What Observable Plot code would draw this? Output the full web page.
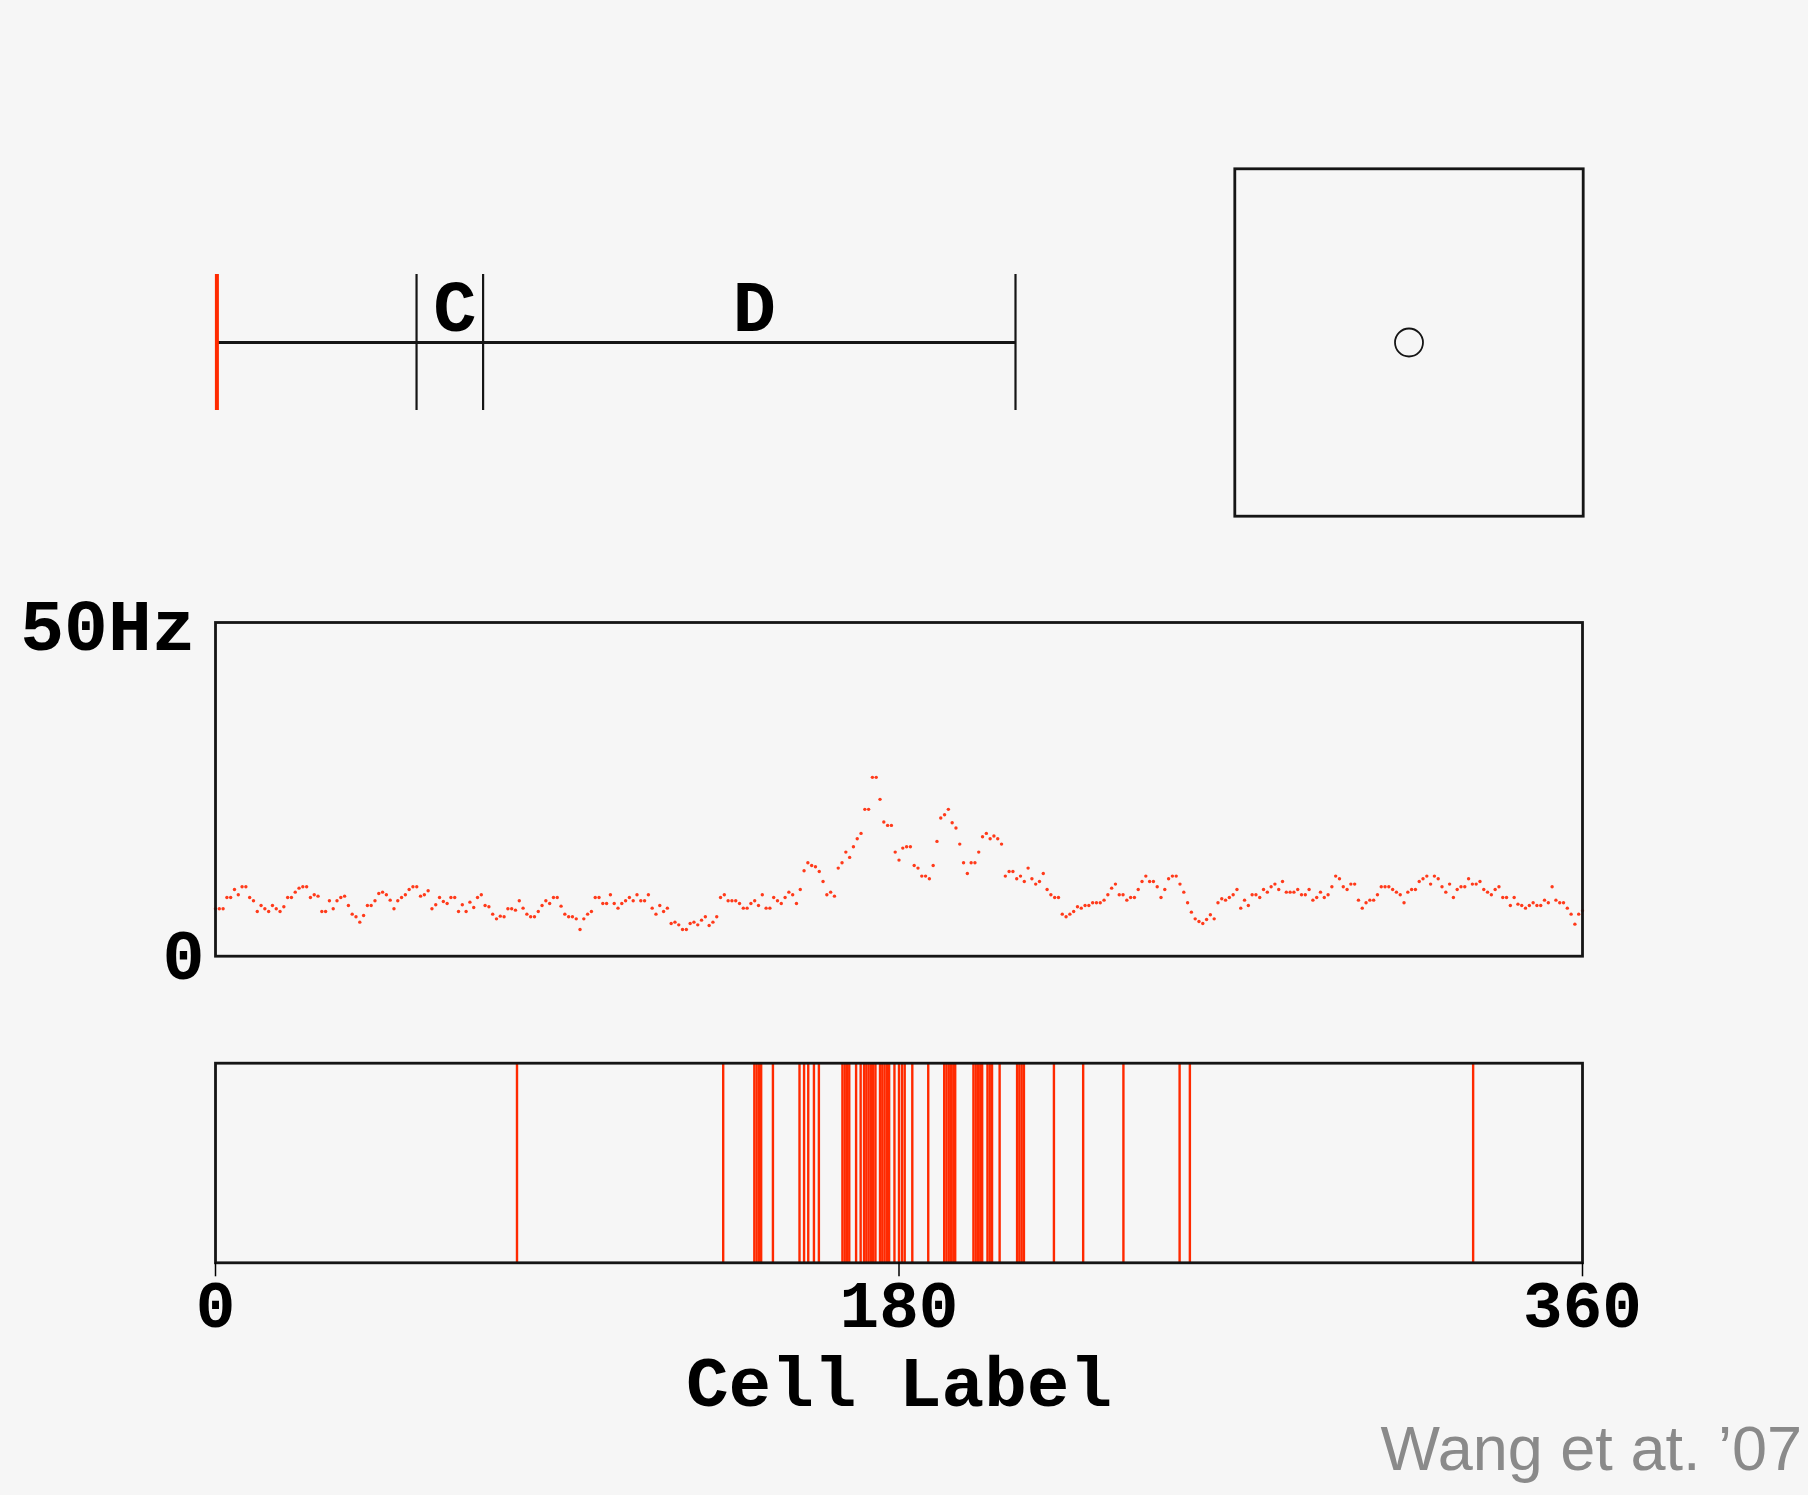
<!DOCTYPE html>
<html>
<head>
<meta charset="utf-8">
<script src="https://cdn.jsdelivr.net/npm/d3@7"></script>
<script src="https://cdn.jsdelivr.net/npm/@observablehq/plot@0.6"></script>
<style>
html, body { margin: 0; padding: 0; background: #f6f6f6; }
#root { position: relative; width: 1808px; height: 1495px; background: #f6f6f6; overflow: hidden; }
#root > svg, #root > figure { position: absolute; left: 0; margin: 0; }
#credit { position: absolute; right: 6px; top: 1417px; font-family: "Liberation Sans", Arial, sans-serif; font-size: 63px; line-height: 63px; color: #8a8a8a; white-space: nowrap; }
</style>
</head>
<body>
<div id="root"><div id="credit">Wang et at. ’07</div></div>
<script>
// ---------- data ----------
// trial phases (seconds): start (red), C starts, D starts, end
const phaseBounds = [0, 3, 4, 12];
const phaseLabels = [
  { name: "C", from: 3, to: 4 },
  { name: "D", from: 4, to: 12 }
];
// animal position in the arena (normalised)
const arenaPos = [{ x: 0.5, y: 0.5 }];
// population firing rate (Hz) per cell label 0..360
const rateHz = [
  7.1,7.1,7.1,8.8,8.8,10.0,9.2,10.4,10.4,8.8,
  8.3,6.7,7.6,7.1,6.7,7.6,7.1,6.7,7.4,8.8,
  8.8,9.6,10.2,10.4,10.4,8.8,9.2,9.0,6.7,6.7,
  8.3,7.1,8.3,8.8,9.0,7.6,6.3,5.9,5.1,6.1,
  7.6,7.6,8.3,9.4,9.6,9.2,8.4,7.1,8.3,8.8,
  9.2,10.0,10.4,10.4,9.0,9.2,9.8,7.1,7.7,8.8,
  8.2,7.9,8.8,8.8,6.7,7.7,6.7,8.1,7.3,8.8,
  9.2,7.6,7.4,6.3,5.6,6.0,5.9,7.1,7.1,6.9,
  8.3,7.2,6.3,5.9,5.9,6.7,7.6,8.3,7.9,8.8,
  8.8,7.5,6.3,5.9,5.9,5.6,4.0,5.6,6.3,6.7,
  8.8,8.8,7.9,7.9,9.2,7.9,7.2,7.9,8.3,8.8,
  8.3,9.2,8.3,8.3,9.2,7.2,6.3,7.6,6.7,7.2,
  4.9,5.1,4.7,4.0,4.0,4.9,5.1,4.7,5.4,5.9,
  4.6,5.1,5.9,8.8,9.2,8.3,8.3,8.3,7.9,7.2,
  7.2,7.9,8.3,7.6,9.2,7.2,7.2,8.8,8.3,7.9,
  8.8,9.6,9.2,7.9,10.0,12.8,14.0,13.6,13.4,12.7,
  11.2,9.2,9.6,9.0,13.2,14.0,15.6,14.8,16.4,17.6,
  18.4,22.0,22.0,26.8,26.8,23.5,20.1,19.6,19.6,15.6,
  14.4,16.2,16.4,16.4,13.6,13.2,12.0,12.0,11.6,13.6,
  17.2,20.7,21.2,22.0,20.0,19.2,16.8,14.0,12.4,14.0,
  14.0,15.6,17.9,18.4,17.6,18.0,17.6,16.8,12.0,12.7,
  12.7,11.6,12.0,11.2,13.2,11.6,10.8,11.2,12.4,10.0,
  9.2,8.8,8.8,6.3,5.9,6.3,6.7,7.4,7.2,7.6,
  7.6,8.0,8.0,8.0,8.4,9.2,10.2,10.8,9.2,9.2,
  8.4,8.8,8.8,10.0,11.2,12.0,11.2,11.2,10.4,8.8,
  10.0,11.6,12.0,12.0,10.8,9.6,8.0,6.6,5.6,5.2,
  4.9,5.5,6.2,5.6,8.0,8.6,8.4,8.8,9.2,10.0,
  7.2,8.4,7.6,9.2,9.2,8.8,10.0,9.6,10.4,10.8,
  10.0,11.2,9.6,9.6,9.6,10.0,9.2,9.2,10.0,8.4,
  8.8,9.6,8.8,9.2,10.4,12.0,11.6,10.4,10.0,10.8,
  10.8,8.4,7.2,8.0,8.4,8.4,9.2,10.4,10.4,10.4,
  10.0,9.6,9.2,8.0,9.6,10.0,10.0,11.2,11.6,12.0,
  10.8,12.0,11.6,10.4,9.6,10.8,8.8,10.0,10.4,10.4,
  11.6,10.8,10.8,11.2,10.0,9.6,9.2,10.0,10.4,8.8,
  8.8,7.6,8.8,7.8,7.6,7.2,7.6,8.0,7.6,7.6,
  8.4,8.0,10.4,8.4,8.0,8.0,7.2,6.3,4.8,6.3,6.8
];
// cell labels of the spikes in the raster
const spikeCells = [
  79.4, 133.7, 141.9, 142.5, 143.1, 143.7, 146.8, 153.8, 155.0, 156.1, 157.6, 158.9,
  165.1, 165.7, 166.3, 166.9, 168.7, 169.9, 170.8, 171.4, 172.0, 172.6, 173.2, 173.8,
  175.0, 175.6, 176.2, 176.8, 177.4, 178.8, 180.0, 180.8, 181.5, 183.5, 187.7,
  191.9, 192.5, 193.1, 193.7, 194.3, 194.8, 199.6, 200.2, 200.8, 201.4, 201.9,
  203.3, 203.9, 204.5, 206.5, 211.1, 211.7, 212.3, 212.9, 220.8, 228.5, 239.1,
  253.9, 256.6, 331.2
];
const xTicks = [0, 180, 360];
const yTicks = [0, 50];
const yTickText = ["0", "50Hz"];
const xLabel = ["Cell Label"];

// ---------- drawing ----------
const root = document.getElementById("root");
const W = 1808;
const RED = "#ff2a00";
const DOT = "#ff3a1a";
const INK = "#151515";
const baseStyle = {
  background: "transparent",
  color: "#000",
  fontFamily: "'Liberation Mono', 'DejaVu Sans Mono', monospace",
  fontWeight: "bold",
  fontSize: "70px",
  overflow: "visible"
};
function place(svg, top) { svg.style.top = top + "px"; root.appendChild(svg); }

// 1. timeline of the trial
const tlTop = 250;
place(Plot.plot({
  width: W, height: 180,
  marginLeft: 216.4, marginRight: W - 1015, marginTop: 24, marginBottom: 20,
  x: { domain: [phaseBounds[0], phaseBounds[phaseBounds.length - 1]], axis: null },
  y: { domain: [-1, 1], axis: null },
  style: baseStyle,
  marks: [
    Plot.ruleY([0], { x1: () => phaseBounds[0], x2: () => phaseBounds[phaseBounds.length - 1], stroke: INK, strokeWidth: 3 }),
    Plot.ruleX(phaseBounds.slice(1), { x: d => d, y1: () => -1, y2: () => 1, stroke: INK, strokeWidth: 2.2 }),
    Plot.ruleX(phaseBounds.slice(0, 1), { x: d => d, y1: () => -1, y2: () => 1, stroke: RED, strokeWidth: 4 }),
    Plot.text(phaseLabels, { x: d => (d.from + d.to) / 2, y: () => 0.515, text: "name", dx: 5, fontSize: 72 })
  ]
}), tlTop);

// 2. arena with position
const arTop = 150;
place(Plot.plot({
  width: W, height: 380,
  marginLeft: 1234.3, marginRight: W - 1582.7, marginTop: 18.3, marginBottom: 380 - 365.7,
  x: { domain: [0, 1], axis: null },
  y: { domain: [0, 1], axis: null },
  style: baseStyle,
  marks: [
    Plot.frame({ stroke: INK, strokeWidth: 2.8 }),
    Plot.dot(arenaPos, { x: "x", y: "y", r: 14, stroke: INK, strokeWidth: 1.8, fill: "none" })
  ]
}), arTop);

// 3. firing rate
const rtTop = 580;
place(Plot.plot({
  width: W, height: 420,
  marginLeft: 215, marginRight: W - 1582, marginTop: 622 - rtTop, marginBottom: rtTop + 420 - 955.7,
  x: { domain: [0, 360], axis: null },
  y: { domain: [0, 50] },
  style: baseStyle,
  marks: [
    Plot.dot(rateHz, { x: (d, i) => i, y: d => d, r: 1.7, fill: DOT, stroke: null }),
    Plot.frame({ stroke: INK, strokeWidth: 2.8 }),
    Plot.axisY([yTicks[1]], { tickSize: 0, tickPadding: 20, tickFormat: () => yTickText[1], dy: 4, fontSize: 73, label: null }),
    Plot.axisY([yTicks[0]], { tickSize: 0, tickPadding: 11, tickFormat: () => yTickText[0], label: null })
  ]
}), rtTop);

// 4. spike raster with cell-label axis
const raTop = 1040;
place(Plot.plot({
  width: W, height: 380,
  marginLeft: 215, marginRight: W - 1582, marginTop: 1062.7 - raTop, marginBottom: raTop + 380 - 1262.3,
  x: { domain: [0, 360] },
  y: { domain: [0, 1], axis: null },
  style: baseStyle,
  marks: [
    Plot.ruleX(spikeCells, { x: d => d, y1: () => 0, y2: () => 1, stroke: RED, strokeWidth: 2.4 }),
    Plot.frame({ stroke: INK, strokeWidth: 2.8 }),
    Plot.axisX(xTicks, { anchor: "bottom", tickSize: 14, tickPadding: 3, strokeWidth: 1.5, fontSize: 66, label: null }),
    Plot.text(xLabel, { frameAnchor: "bottom", lineAnchor: "middle", dy: 120.3, text: d => d, fontSize: 71 })
  ]
}), raTop);
</script>
</body>
</html>
